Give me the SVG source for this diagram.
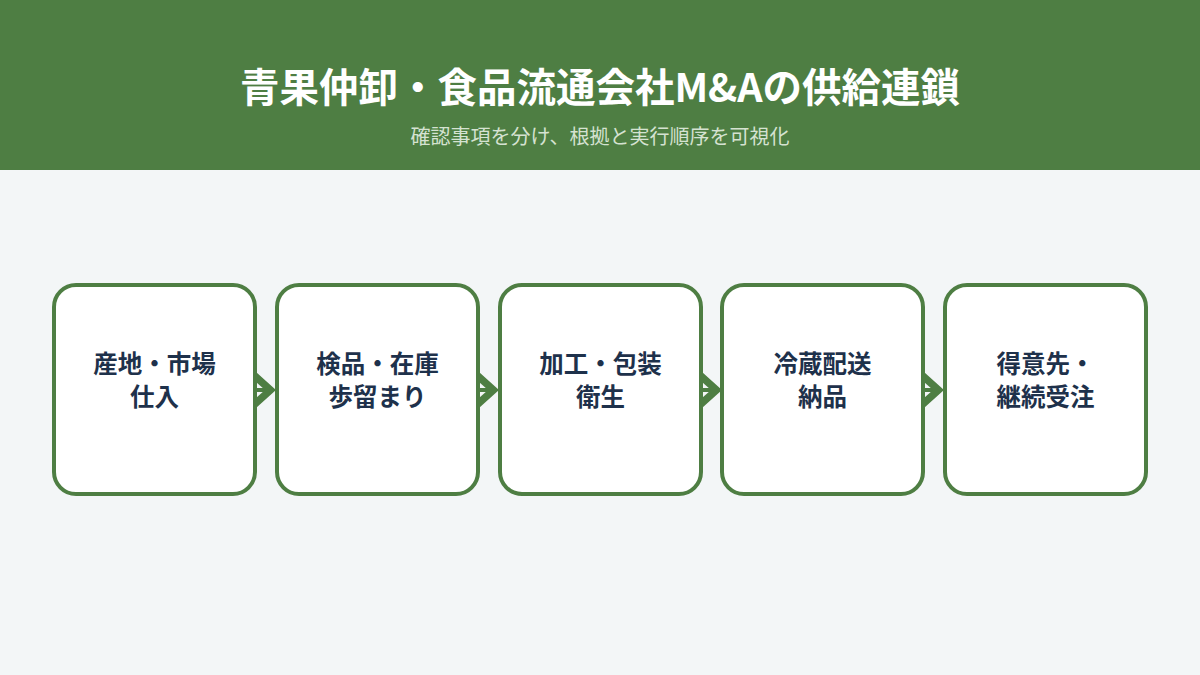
<svg xmlns="http://www.w3.org/2000/svg" width="1200" height="675" viewBox="0 0 1200 675">
<defs>
<style>
.node rect{fill:#ffffff;stroke:#4e7e43;stroke-width:4}
.lbl{font-family:"Noto Sans CJK JP","Noto Sans",sans-serif;font-size:24.5px;font-weight:700;fill:#1e314b;text-anchor:middle}
.conn line{stroke:#4e7e43;stroke-width:4}
.conn path{fill:#4e7e43}
</style>
</defs>
<rect x="0" y="0" width="1200" height="675" fill="#f3f6f7"/>
<rect x="0" y="0" width="1200" height="170" fill="#4e7e43"/>
<text x="600" y="102" font-family="'Noto Sans CJK JP','Noto Sans',sans-serif" font-size="39.5" font-weight="700" fill="#ffffff" text-anchor="middle">青果仲卸・食品流通会社M&amp;Aの供給連鎖</text>
<text x="600" y="144" font-family="'Noto Sans CJK JP','Noto Sans',sans-serif" font-size="20" fill="#d5e2d1" text-anchor="middle">確認事項を分け、根拠と実行順序を可視化</text>
<g id="connectors" class="conn">
<line x1="256" y1="390" x2="266" y2="390"/><path d="M256,372 L276,390 L256,408 L256,398 L265,390 L256,382 Z"/>
<line x1="479" y1="390" x2="489" y2="390"/><path d="M479,372 L499,390 L479,408 L479,398 L488,390 L479,382 Z"/>
<line x1="702" y1="390" x2="712" y2="390"/><path d="M702,372 L722,390 L702,408 L702,398 L711,390 L702,382 Z"/>
<line x1="924" y1="390" x2="934" y2="390"/><path d="M924,372 L944,390 L924,408 L924,398 L933,390 L924,382 Z"/>
</g>
<g id="node1" class="node"><rect x="54" y="285" width="201" height="209" rx="22"/><text class="lbl" x="154.5" y="373">産地・市場</text><text class="lbl" x="154.5" y="406">仕入</text></g>
<g id="node2" class="node"><rect x="277" y="285" width="201" height="209" rx="22"/><text class="lbl" x="377.5" y="373">検品・在庫</text><text class="lbl" x="377.5" y="406">歩留まり</text></g>
<g id="node3" class="node"><rect x="500" y="285" width="201" height="209" rx="22"/><text class="lbl" x="600.5" y="373">加工・包装</text><text class="lbl" x="600.5" y="406">衛生</text></g>
<g id="node4" class="node"><rect x="722" y="285" width="201" height="209" rx="22"/><text class="lbl" x="822.5" y="373">冷蔵配送</text><text class="lbl" x="822.5" y="406">納品</text></g>
<g id="node5" class="node"><rect x="945" y="285" width="201" height="209" rx="22"/><text class="lbl" x="1045.5" y="373">得意先・</text><text class="lbl" x="1045.5" y="406">継続受注</text></g>
</svg>
